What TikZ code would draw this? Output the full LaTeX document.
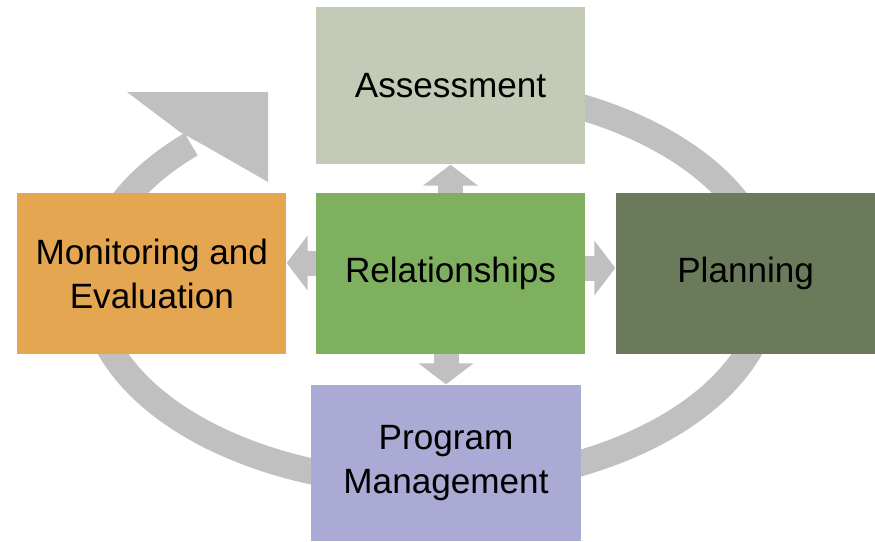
\documentclass[tikz,border=0pt]{standalone}
\usepackage{fontspec}
\setmainfont{Liberation Sans}
\usepackage{tikz}
\usetikzlibrary{positioning, arrows.meta}
\definecolor{assesscol}{RGB}{195,203,182}
\definecolor{relcol}{RGB}{127,176,95}
\definecolor{moncol}{RGB}{228,166,80}
\definecolor{plancol}{RGB}{107,122,90}
\definecolor{progcol}{RGB}{170,170,212}
\definecolor{ringgray}{RGB}{192,192,192}
\tikzstyle{stage} = [rectangle, minimum width=5.38cm, minimum height=3.22cm, inner sep=0pt, align=center, font=\fontsize{20}{25}\selectfont]
\tikzstyle{push} = [line width=0.5cm, draw=ringgray, -{Triangle[width=1.08cm, length=0.42cm]}]
\tikzstyle{ring} = [line width=0.52cm, draw=ringgray]

\begin{document}
\begin{tikzpicture}[x=0.02cm, y=-0.02cm]
\useasboundingbox (0,0) rectangle (875,541);

% Cycle
\draw [ring] (430,86) arc[start angle=90, end angle=-225, x radius=6.76cm, y radius=3.98cm];
\fill [ringgray] (180,132) -- (127,92) -- (268,92) -- (268,182) -- (207,147) -- cycle;

% Nodes
\node (rel) [stage, fill=relcol] at (450.5,273.5) {Relationships};
\node (assess) [stage, fill=assesscol, minimum height=3.14cm, above=0.56cm of rel] {Assessment};
\node (monitor) [stage, fill=moncol, left=0.58cm of rel] {Monitoring and\\Evaluation};
\node (plan) [stage, fill=plancol, minimum width=5.2cm, right=0.6cm of rel] {Planning};
\node (prog) [stage, fill=progcol, minimum width=5.4cm, minimum height=3.12cm, below=0.6cm of rel, xshift=-0.09cm] {Program\\Management};

% Arrows
\draw [push] (rel.north) -- (assess.south);
\draw [push] ([yshift=0.21cm]rel.west) -- ([yshift=0.21cm]monitor.east);
\draw [push] ([yshift=0.11cm]rel.east) -- ([yshift=0.11cm]plan.west);
\draw [push] (rel.south -| prog.north) -- (prog.north);

\end{tikzpicture}
\end{document}
